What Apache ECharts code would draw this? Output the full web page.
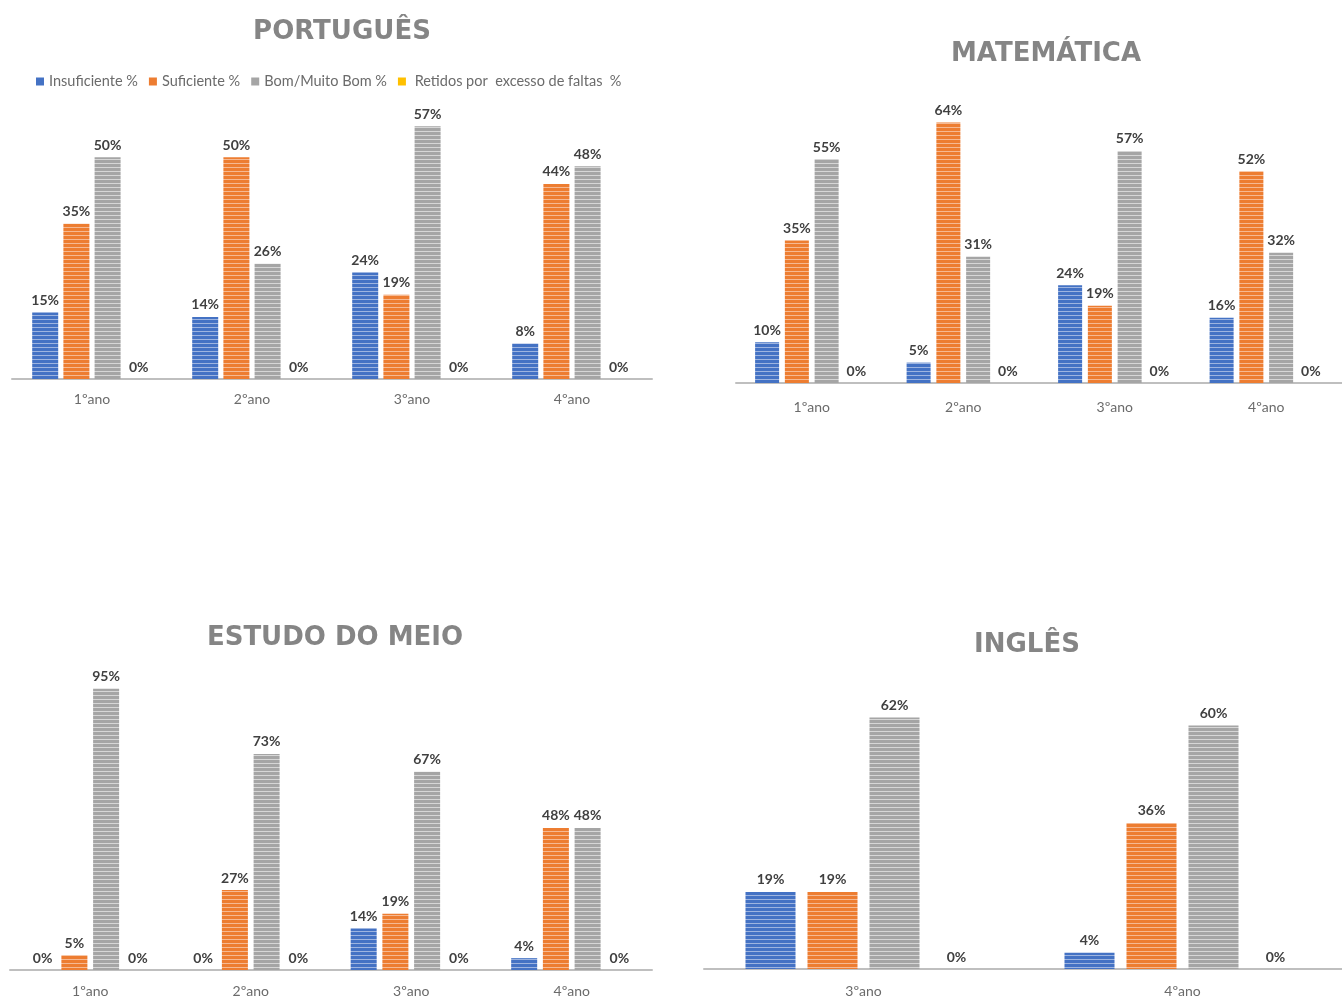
<!DOCTYPE html>
<html><head><meta charset="utf-8">
<script src="https://cdn.jsdelivr.net/npm/echarts@6/dist/echarts.min.js"></script>
<style>html,body{margin:0;padding:0;background:#fff}#c{width:1342px;height:998px}</style>
</head><body><div id="c"></div>
<script>
const seriesNames = ['Insuficiente %', 'Suficiente %', 'Bom/Muito Bom %', ' Retidos por  excesso de faltas  %'];
const anos4 = ['1ºano', '2ºano', '3ºano', '4ºano'];
const anos2 = ['3ºano', '4ºano'];

const portTitle = 'PORTUGUÊS';
const portInsuf = [15, 14, 24, 8];
const portSuf = [35, 50, 19, 44];
const portBom = [50, 26, 57, 48];
const portRet = [0, 0, 0, 0];

const matTitle = 'MATEMÁTICA';
const matInsuf = [10, 5, 24, 16];
const matSuf = [35, 64, 19, 52];
const matBom = [55, 31, 57, 32];
const matRet = [0, 0, 0, 0];

const meioTitle = 'ESTUDO DO MEIO';
const meioInsuf = [0, 0, 14, 4];
const meioSuf = [5, 27, 19, 48];
const meioBom = [95, 73, 67, 48];
const meioRet = [0, 0, 0, 0];

const ingTitle = 'INGLÊS';
const ingInsuf = [19, 4];
const ingSuf = [19, 36];
const ingBom = [62, 60];
const ingRet = [0, 0];

const baseColors = ['#4472C4', '#ED7D31', '#A5A5A5', '#FFC000'];
const lightColors = ['#9db4e0', '#f6b992', '#d6d6d6', '#ffe08a'];

function stripe(i) {
  const c = document.createElement('canvas');
  c.width = 4; c.height = 4;
  const g = c.getContext('2d');
  g.fillStyle = baseColors[i]; g.fillRect(0, 0, 4, 4);
  g.fillStyle = lightColors[i]; g.fillRect(0, 3, 4, 1);
  return { image: c, repeat: 'repeat' };
}
const fills = [0, 1, 2, 3].map(stripe);

const panels = [
  { title: portTitle, cats: anos4, data: [portInsuf, portSuf, portBom, portRet], max: 60,
    grid: { left: 12, top: 113, width: 640, height: 266 }, titlePos: { left: 337, top: 14 }, bw: 26, cg: '25%', bg: '20%', lm: 13 },
  { title: matTitle, cats: anos4, data: [matInsuf, matSuf, matBom, matRet], max: 70,
    grid: { left: 736, top: 98, width: 616, height: 285 }, titlePos: { left: 1041, top: 36 }, bw: 24, cg: '25%', bg: '24%', lm: 17 },
  { title: meioTitle, cats: anos4, data: [meioInsuf, meioSuf, meioBom, meioRet], max: 100,
    grid: { left: 10, top: 674, width: 642, height: 300 }, titlePos: { left: 330, top: 620 }, bw: 26, cg: '25%', bg: '22%', lm: 14 },
  { title: ingTitle, cats: anos2, data: [ingInsuf, ingSuf, ingBom, ingRet], max: 70,
    grid: { left: 704, top: 685, width: 640, height: 285 }, titlePos: { left: 1022, top: 627 }, bw: 50, cg: '26%', bg: '24%', lm: 15 }
];

const option = {
  backgroundColor: '#fff',
  animation: false,
  title: panels.map(p => ({
    text: p.title, left: p.titlePos.left, top: p.titlePos.top, textAlign: 'center',
    textStyle: { fontFamily: 'DejaVu Sans', fontWeight: 'bold', fontSize: 26, color: '#858585' }
  })),
  legend: {
    left: 31, top: 69, itemWidth: 8, itemHeight: 8, itemGap: 11,
    textStyle: { fontFamily: 'Lato', fontSize: 14.5, color: '#6b6b6b' },
    data: seriesNames.map((n, i) => ({ name: n, icon: 'rect', itemStyle: { color: baseColors[i] } }))
  },
  grid: panels.map(p => Object.assign({ containLabel: false }, p.grid)),
  xAxis: panels.map((p, i) => ({
    type: 'category', gridIndex: i, data: p.cats,
    axisLine: { lineStyle: { color: '#bfbfbf', width: 2 } },
    axisTick: { show: false },
    axisLabel: { margin: p.lm, fontFamily: 'Lato', fontSize: 14, color: '#6b6b6b' }
  })),
  yAxis: panels.map((p, i) => ({
    type: 'value', gridIndex: i, min: 0, max: p.max, show: false, splitLine: { show: false }
  })),
  series: []
};

panels.forEach((p, pi) => {
  p.data.forEach((vals, si) => {
    option.series.push({
      type: 'bar', name: seriesNames[si], xAxisIndex: pi, yAxisIndex: pi,
      data: vals, barWidth: p.bw, barGap: p.bg, barCategoryGap: p.cg,
      itemStyle: { color: fills[si] },
      label: {
        show: true, position: 'top', distance: 5, formatter: '{c}%',
        fontFamily: 'Lato', fontWeight: 'bold', fontSize: 14, color: '#404040'
      }
    });
  });
});

const chart = echarts.init(document.getElementById('c'), null, { renderer: 'canvas' });
chart.setOption(option);
</script>
</body></html>
